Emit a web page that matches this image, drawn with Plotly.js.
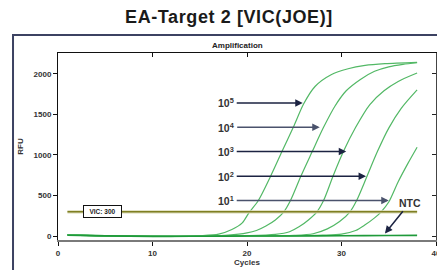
<!DOCTYPE html>
<html>
<head>
<meta charset="utf-8">
<script src="https://cdn.plot.ly/plotly-3.0.1.min.js"></script>
<style>
html,body{margin:0;padding:0;background:#fff;}
#chart{width:437px;height:270px;}
#chart .gtitle{letter-spacing:0.6px;}
</style>
</head>
<body>
<div id="chart"></div>
<script>
// ---- data ----
var cyc5 = [1, 4, 8, 12, 15, 17, 18.4, 19.5, 20.2, 21.2, 22.5, 23.7, 24.9, 26.0, 27.2, 28.9, 30.7, 32.5, 34.6, 38];
var rfu5 = [18, 10, 2, -3, 6, 25, 82, 164, 287, 439, 738, 1041, 1340, 1630, 1843, 1987, 2061, 2102, 2123, 2140];
var cyc4 = [1, 4, 8, 12, 16, 18, 20, 21, 22, 23, 23.9, 24.6, 25.7, 26.9, 28.1, 29.3, 30.5, 32, 33.5, 35, 36.5, 38];
var rfu4 = [15, 8, 0, -5, 2, 12, 40, 70, 125, 200, 300, 439, 738, 1041, 1340, 1600, 1790, 1930, 2030, 2085, 2115, 2135];
var cyc3 = [1, 5, 10, 15, 20, 23, 24.5, 25.5, 26.5, 27.4, 28.1, 29.1, 30.2, 31.5, 33, 34.5, 36, 38];
var rfu3 = [20, 5, 0, -3, 5, 22, 55, 115, 200, 300, 439, 738, 1041, 1340, 1620, 1790, 1905, 2008];
var cyc2 = [1, 5, 10, 15, 20, 25, 27, 28.5, 29.8, 30.9, 31.6, 32.7, 33.8, 35, 36.3, 38];
var rfu2 = [17, 4, -2, 0, 3, 10, 30, 90, 180, 300, 439, 738, 1041, 1330, 1570, 1800];
var cyc1 = [1, 5, 10, 15, 20, 25, 28, 30, 31.5, 32.5, 33.5, 34.2, 35, 36, 37, 38];
var rfu1 = [16, 3, -3, 0, 2, 5, 12, 25, 70, 140, 225, 300, 420, 670, 890, 1095];
var ntcCyc = [1, 5, 10, 15, 20, 25, 30, 35, 38];
var ntcRfu = [12, 4, -2, 0, 2, 3, 5, 8, 10];
var thrCyc = [1, 38];
var thrRfu = [300, 300];
var thresholdLabel = 'VIC: 300';
var seriesLabels = ['10<sup>5</sup>', '10<sup>4</sup>', '10<sup>3</sup>', '10<sup>2</sup>', '10<sup>1</sup>'];
var labelLevels = [1640, 1340, 1041, 738, 439];
var arrowTips = [25.9, 27.7, 30.5, 32.6, 35.0];
var labelCycle = 17.8;
var ntcLabel = 'NTC';
var ntcLabelPos = [37.2, 410];
var ntcArrowTip = [34.6, 33];
var xTicks = [0, 10, 20, 30, 40];
var yTicks = [0, 500, 1000, 1500, 2000];

var F = 'Liberation Sans, Arial, sans-serif';
var green = '#52b865';
function curve(x, y, c, w) {
  return {x: x, y: y, type: 'scatter', mode: 'lines', hoverinfo: 'skip', showlegend: false,
          line: {color: c, width: w, shape: 'spline', smoothing: 0.8}};
}
var traces = [
  curve(cyc5, rfu5, green, 1.2),
  curve(cyc4, rfu4, green, 1.2),
  curve(cyc3, rfu3, green, 1.2),
  curve(cyc2, rfu2, green, 1.2),
  curve(cyc1, rfu1, green, 1.2),
  curve(ntcCyc, ntcRfu, '#1f9a3a', 1.6),
  {x: thrCyc, y: thrRfu, type: 'scatter', mode: 'lines', xaxis: 'x2', yaxis: 'y2', hoverinfo: 'skip', showlegend: false,
   line: {color: '#d9d9b4', width: 3.2}},
  {x: thrCyc, y: thrRfu, type: 'scatter', mode: 'lines', xaxis: 'x2', yaxis: 'y2', hoverinfo: 'skip', showlegend: false,
   line: {color: '#7f7f22', width: 1.4}}
];

var arrowColors = ['#1c2342', '#4a526c', '#1c2342', '#1c2342', '#4a526c'];
var annotations = [];
for (var i = 0; i < seriesLabels.length; i++) {
  annotations.push({x: arrowTips[i], y: labelLevels[i], ax: labelCycle, ay: labelLevels[i], axref: 'x', ayref: 'y',
    xref: 'x', yref: 'y', text: seriesLabels[i], showarrow: true, arrowhead: 2, arrowsize: 1, arrowwidth: 1.5,
    arrowcolor: arrowColors[i], standoff: 0, startstandoff: 1,
    font: {family: F, size: 10.5, color: '#333', weight: 'bold'}});
}
annotations.push({x: ntcArrowTip[0], y: ntcArrowTip[1], ax: ntcLabelPos[0], ay: ntcLabelPos[1], axref: 'x', ayref: 'y',
  xref: 'x', yref: 'y', text: ntcLabel, showarrow: true, arrowhead: 2, arrowsize: 1, arrowwidth: 1.5,
  arrowcolor: '#1c2342', standoff: 0, startstandoff: 1,
  font: {family: F, size: 10.5, color: '#333', weight: 'bold'}});
annotations.push({x: 4.75, y: 300, xref: 'x', yref: 'y', text: thresholdLabel, showarrow: false,
  bgcolor: '#fff', bordercolor: '#111', borderwidth: 1, borderpad: 1, width: 35, height: 9,
  font: {family: F, size: 6.5, color: '#222', weight: 'bold'}});
annotations.push({x: 0.476, y: 1.04, xref: 'paper', yref: 'paper', xanchor: 'center', yanchor: 'middle',
  text: 'Amplification', showarrow: false,
  font: {family: F, size: 8, color: '#222', weight: 'bold'}});

var tickFont = {family: F, size: 8, color: '#333', weight: 'bold'};
var layout = {
  width: 437, height: 270,
  margin: {l: 58, r: 1, t: 53, b: 30},
  paper_bgcolor: '#fff', plot_bgcolor: '#fff',
  showlegend: false,
  title: {text: 'EA-Target 2 [VIC(JOE)]', xref: 'container', x: 0.524, xanchor: 'center',
          yref: 'container', y: 0.937, yanchor: 'middle',
          font: {family: F, size: 18, color: '#1a1a1a', weight: 'bold'}},
  xaxis: {range: [0, 40], tickvals: xTicks, ticktext: xTicks.map(String), showgrid: false, zeroline: false,
          showline: true, linecolor: '#7a7a7a', linewidth: 2, ticks: 'outside', ticklen: 4, tickcolor: '#111', tickwidth: 1,
          tickfont: tickFont, ticklabeloverflow: 'allow',
          title: {text: 'Cycles', standoff: 3, font: {family: F, size: 8, color: '#333', weight: 'bold'}}},
  yaxis: {range: [-47, 2255], tickvals: yTicks, ticktext: yTicks.map(String), showgrid: false, zeroline: false,
          showline: true, linecolor: '#111', linewidth: 1, ticks: 'outside', ticklen: 4, tickcolor: '#111', tickwidth: 1,
          tickfont: tickFont,
          title: {text: 'RFU', standoff: 8, font: {family: F, size: 8, color: '#333', weight: 'bold'}}},
  xaxis2: {range: [0, 40], overlaying: 'x', side: 'top', tickvals: [10, 20, 30], showticklabels: false,
           showgrid: false, zeroline: false, showline: true, linecolor: '#111', linewidth: 1,
           ticks: 'inside', ticklen: 4, tickcolor: '#111'},
  yaxis2: {range: [-47, 2255], overlaying: 'y', side: 'right', tickvals: yTicks, showticklabels: false,
           showgrid: false, zeroline: false, showline: true, linecolor: '#444', linewidth: 1,
           ticks: 'inside', ticklen: 4, tickcolor: '#222'},
  annotations: annotations,
  shapes: [{type: 'rect', xref: 'paper', yref: 'paper', x0: -0.119, x1: 1.2, y0: -0.3, y1: 1.096,
            line: {color: '#3c4262', width: 2}, fillcolor: 'rgba(0,0,0,0)', layer: 'below'}]
};
Plotly.newPlot('chart', traces, layout, {staticPlot: true, displayModeBar: false});
</script>
</body>
</html>
